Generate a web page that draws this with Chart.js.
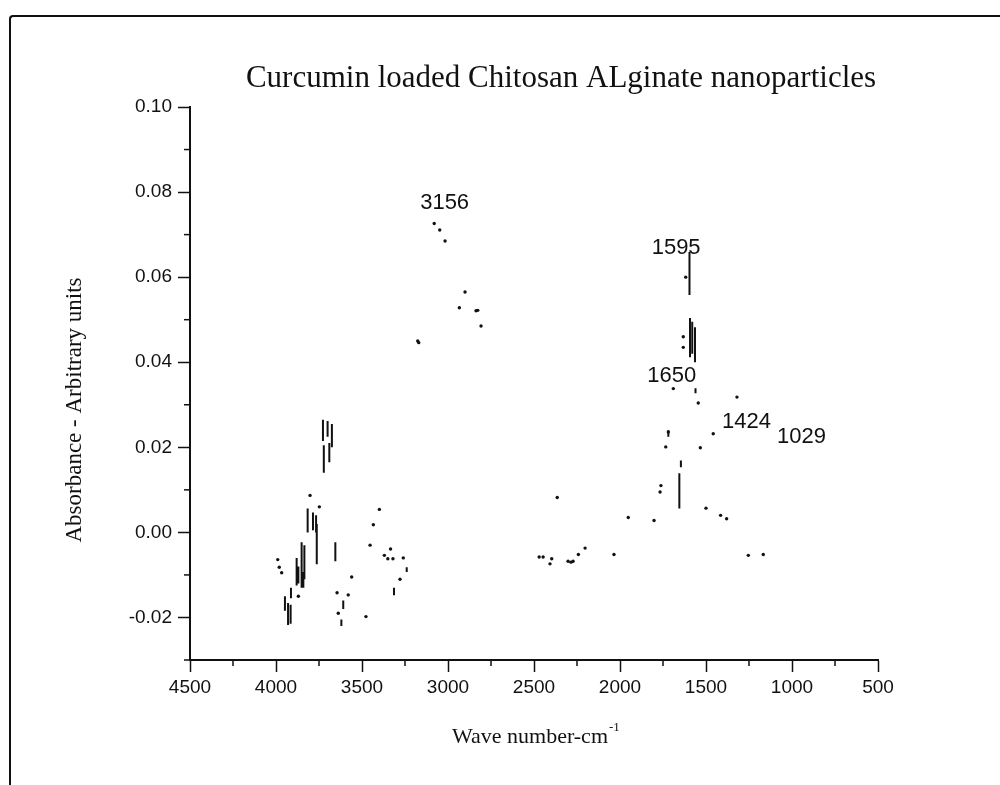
<!DOCTYPE html>
<html lang="en">

<head>
    <meta charset="UTF-8">
    <title>Curcumin loaded Chitosan ALginate nanoparticles</title>
    <script src="https://cdn.jsdelivr.net/npm/chart.js"></script>
    <style>
        body {
            margin: 0;
            background: #fff;
        }

        .moldura {
            position: absolute;
            left: 9px;
            top: 15px;
            width: 991px;
            height: 770px;
            border-top: 2px solid #111;
            border-left: 2px solid #111;
            border-top-left-radius: 4px;
        }

        #grafico {
            position: absolute;
            left: 0;
            top: 0;
        }
    </style>
</head>

<body>
    <div class="moldura"></div>
    <canvas id="grafico" width="1000" height="785"></canvas>
</body>

</html>
<script>

    // pontos soltos do espectro (numero de onda, absorbancia)
    const pontosWn = [3080, 3048, 3017, 2901, 2934, 2837, 2827, 2808, 3176, 3170,
        3802, 3748, 3990, 3981, 3967, 3870, 3560, 3645, 3580, 3638, 3477,
        3399, 3434, 3453, 3370, 3334, 3350, 3320, 3260, 3279,
        1618, 1632, 1632, 1690, 1545, 1320, 1719, 1458, 1734, 1533, 1762, 1767,
        2365, 1500, 1415, 1380, 1952, 1802, 318,
        2470, 2447, 2407, 2397, 2302, 2285, 2273, 2242, 2203, 2035, 1254, 1167];
    const pontosAbs = [0.0726, 0.0711, 0.0685, 0.0565, 0.0528, 0.0521, 0.0522, 0.0485, 0.0450, 0.0446,
        0.0087, 0.0060, -0.0064, -0.0082, -0.0095, -0.0150, -0.0105, -0.0142, -0.0147, -0.0190, -0.0198,
        0.0054, 0.0018, -0.0030, -0.0054, -0.0039, -0.0062, -0.0062, -0.0060, -0.0110,
        0.0600, 0.0460, 0.0435, 0.0338, 0.0304, 0.0318, 0.0236, 0.0232, 0.0201, 0.0199, 0.0110, 0.0095,
        0.0082, 0.0057, 0.0040, 0.0032, 0.0035, 0.0028, 0.0055,
        -0.0058, -0.0058, -0.0074, -0.0062, -0.0068, -0.0070, -0.0068, -0.0052, -0.0037, -0.0052, -0.0054, -0.0052];

    // trechos verticais continuos (numero de onda, topo, base)
    const trechoWn = [3727, 3722, 3700, 3690, 3675,
        3816, 3785, 3767, 3763, 3851, 3835, 3880, 3870,
        3948, 3930, 3915, 3913, 3841, 3655, 3609, 3620, 3240, 3314,
        1596, 1593, 1580, 1564, 1561, 1719, 1646, 1655];
    const trechoTopo = [0.0265, 0.0205, 0.0262, 0.0210, 0.0255,
        0.0056, 0.0047, 0.0040, 0.0020, -0.0023, -0.0030, -0.0060, -0.0080,
        -0.0150, -0.0166, -0.0170, -0.0130, -0.0093, -0.0023, -0.0160, -0.0205, -0.0082, -0.0130,
        0.0659, 0.0504, 0.0495, 0.0482, 0.0339, 0.0240, 0.0169, 0.0139];
    const trechoBase = [0.0215, 0.0140, 0.0225, 0.0165, 0.0200,
        0.0000, 0.0005, 0.0000, -0.0075, -0.0130, -0.0110, -0.0125, -0.0120,
        -0.0184, -0.0218, -0.0215, -0.0155, -0.0130, -0.0068, -0.0180, -0.0220, -0.0093, -0.0148,
        0.0558, 0.0412, 0.0420, 0.0400, 0.0327, 0.0225, 0.0153, 0.0056];

    // picos marcados
    const picosWn = [3156, 1595, 1650, 1424, 1029];
    const picosAbs = [0.073, 0.066, 0.034, 0.023, 0.020];

    // eixos
    const xMin = 500, xMax = 4500, xPasso = 250;
    const yMin = -0.03, yMax = 0.10, yPasso = 0.01;

    var pontos = [];
    for (var i = 0; i < pontosWn.length; i++) {
        pontos.push({ x: pontosWn[i], y: pontosAbs[i] });
    }

    var trechos = [];
    for (var i = 0; i < trechoWn.length; i++) {
        trechos.push({ x: trechoWn[i], y: trechoTopo[i] });
        trechos.push({ x: trechoWn[i], y: trechoBase[i] });
        trechos.push({ x: trechoWn[i], y: null });
    }

    function ehMaiorX(v) {
        return Math.round(v) % 500 === 0;
    }

    function ehMaiorY(v) {
        return Math.round(v * 100) % 2 === 0;
    }

    const textos = {
        id: 'textos',
        afterDraw(chart) {
            const c = chart.ctx;
            const area = chart.chartArea;
            const sx = chart.scales.x;
            const sy = chart.scales.y;
            c.save();

            // marcas menores
            c.strokeStyle = '#111';
            c.lineWidth = 1.5;
            sx.ticks.forEach(function (t) {
                if (!ehMaiorX(t.value)) {
                    var px = sx.getPixelForValue(t.value);
                    c.beginPath();
                    c.moveTo(px, area.bottom);
                    c.lineTo(px, area.bottom + 6);
                    c.stroke();
                }
            });
            sy.ticks.forEach(function (t) {
                if (!ehMaiorY(t.value)) {
                    var py = sy.getPixelForValue(t.value);
                    c.beginPath();
                    c.moveTo(area.left - 6, py);
                    c.lineTo(area.left, py);
                    c.stroke();
                }
            });

            // rotulos dos picos
            const desloc = [[-1, -19], [-38, -4], [-33, -12], [3, -13], [-10, -10]];
            c.fillStyle = '#111';
            c.font = '22px "Liberation Sans", Arial, sans-serif';
            c.textAlign = 'left';
            c.textBaseline = 'middle';
            for (var i = 0; i < picosWn.length; i++) {
                var px = sx.getPixelForValue(picosWn[i]) + desloc[i][0];
                var py = sy.getPixelForValue(picosAbs[i]) + desloc[i][1];
                c.fillText(String(picosWn[i]), px, py);
            }

            // titulo
            c.textAlign = 'center';
            c.font = '31px "Liberation Serif", "Times New Roman", serif';
            c.fillText('Curcumin loaded Chitosan ALginate nanoparticles', 561, 79);

            // titulo do eixo x com expoente
            c.font = '22px "Liberation Serif", "Times New Roman", serif';
            var base = 'Wave number-cm';
            var w = c.measureText(base).width;
            c.textAlign = 'left';
            c.fillText(base, 530 - w / 2, 737);
            c.font = '13px "Liberation Serif", "Times New Roman", serif';
            c.fillText('-1', 530 + w / 2 + 1, 728);

            // titulo do eixo y
            c.translate(75, 410);
            c.rotate(-Math.PI / 2);
            c.textAlign = 'center';
            c.font = '23px "Liberation Serif", "Times New Roman", serif';
            c.fillText('Absorbance - Arbitrary units', 0, 0);
            c.restore();
        }
    };

    const ctx = document.getElementById('grafico');

    new Chart(ctx, {
        type: 'scatter',
        data: {
            datasets: [{
                label: 'pontos',
                data: pontos,
                showLine: false,
                pointRadius: 1.7,
                pointBorderWidth: 0,
                pointBackgroundColor: '#111',
                clip: false
            }, {
                label: 'trechos',
                data: trechos,
                showLine: true,
                spanGaps: false,
                borderColor: '#111',
                borderWidth: 2,
                pointRadius: 0
            }]
        },
        options: {
            responsive: false,
            animation: false,
            devicePixelRatio: 1,
            layout: {
                padding: { left: 60, top: 107, right: 122, bottom: 0 }
            },
            plugins: {
                legend: { display: false },
                tooltip: { enabled: false },
                title: { display: false }
            },
            scales: {
                x: {
                    type: 'linear',
                    reverse: true,
                    min: xMin,
                    max: xMax,
                    afterFit: function (s) { s.height = 125; },
                    border: { display: true, color: '#111', width: 2 },
                    grid: {
                        drawOnChartArea: false,
                        drawTicks: true,
                        tickLength: 12,
                        tickWidth: 1.5,
                        tickColor: function (c) {
                            return c.tick && !ehMaiorX(c.tick.value) ? 'rgba(0,0,0,0)' : '#111';
                        }
                    },
                    ticks: {
                        stepSize: xPasso,
                        autoSkip: false,
                        maxRotation: 0,
                        padding: 4,
                        color: '#111',
                        font: { family: '"Liberation Sans", Arial, sans-serif', size: 19 },
                        callback: function (v) { return ehMaiorX(v) ? String(Math.round(v)) : ''; }
                    }
                },
                y: {
                    type: 'linear',
                    min: yMin,
                    max: yMax,
                    afterFit: function (s) { s.width = 130; },
                    border: { display: true, color: '#111', width: 2 },
                    grid: {
                        drawOnChartArea: false,
                        drawTicks: true,
                        tickLength: 12,
                        tickWidth: 1.5,
                        tickColor: function (c) {
                            return c.tick && !ehMaiorY(c.tick.value) ? 'rgba(0,0,0,0)' : '#111';
                        }
                    },
                    ticks: {
                        stepSize: yPasso,
                        autoSkip: false,
                        padding: 6,
                        color: '#111',
                        font: { family: '"Liberation Sans", Arial, sans-serif', size: 19 },
                        callback: function (v) { return ehMaiorY(v) ? v.toFixed(2) : ''; }
                    }
                }
            }
        },
        plugins: [textos]
    });
</script>
